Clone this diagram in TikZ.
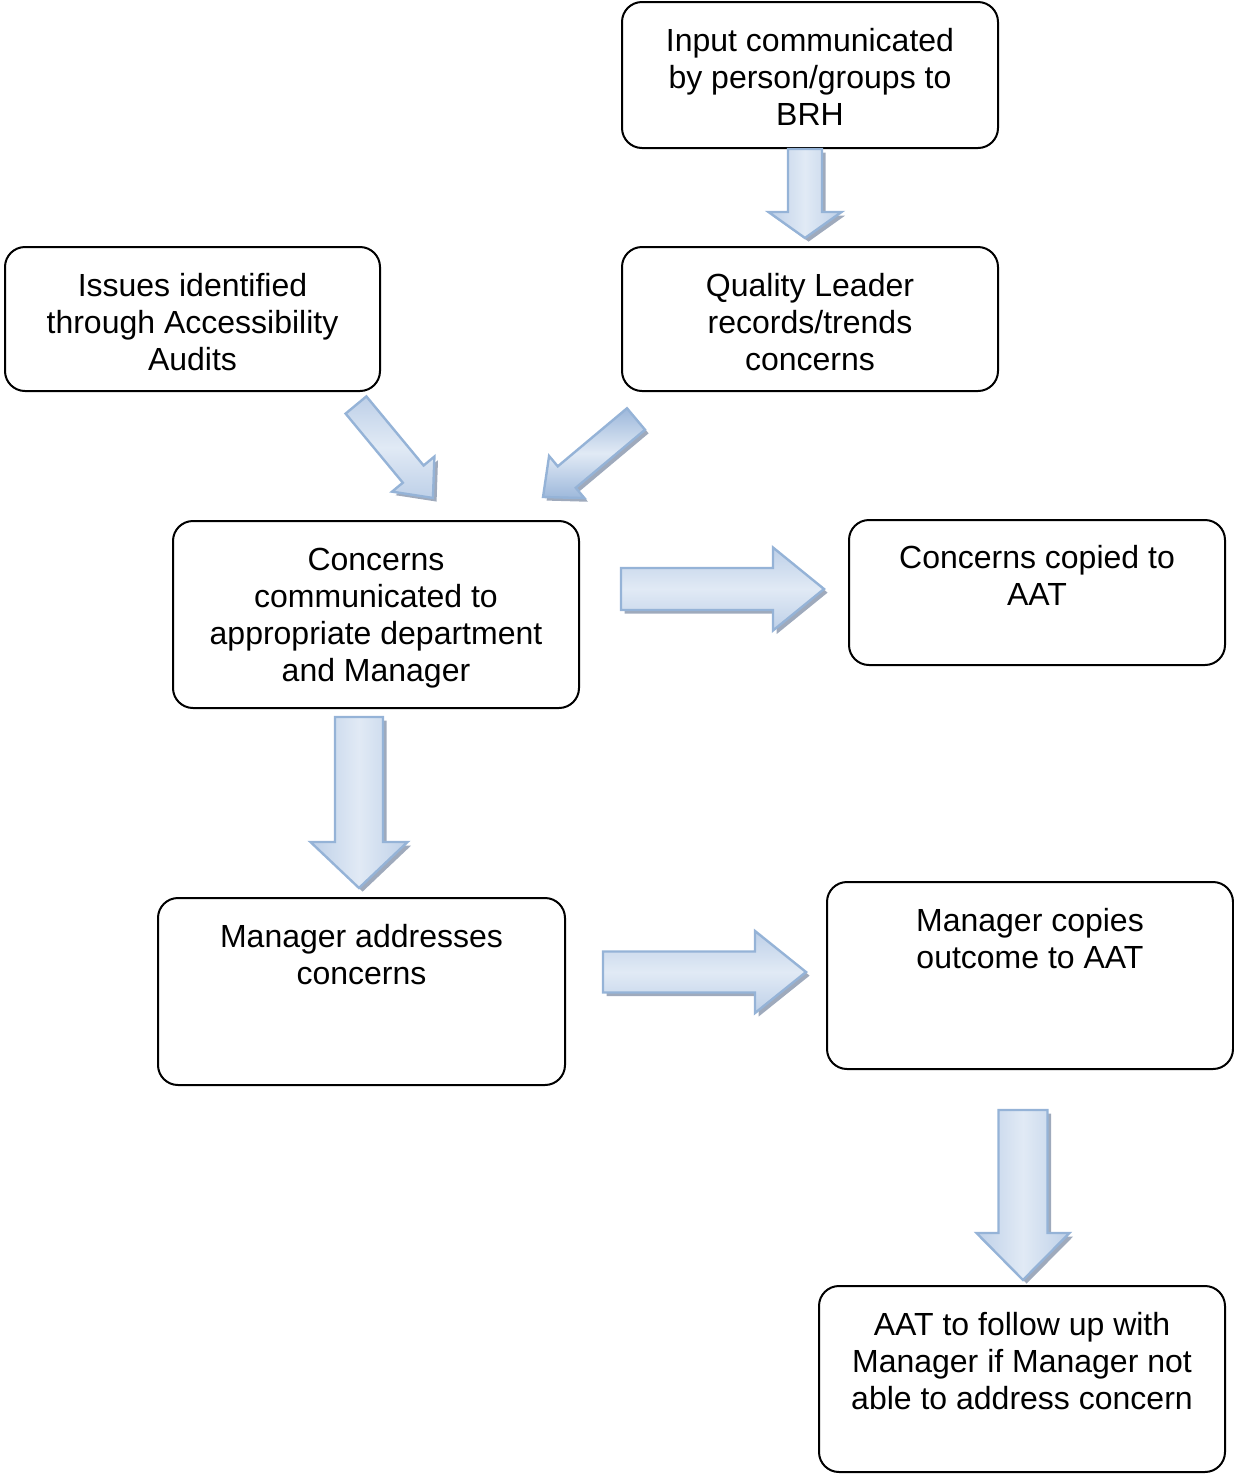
\documentclass[tikz,border=0pt]{standalone}
\usepackage{fontspec}
\setmainfont{Liberation Sans}
\usetikzlibrary{calc}
\definecolor{arrline}{HTML}{95B3D7}
\definecolor{arrlight}{HTML}{E1EAF5}
\definecolor{arrmid}{HTML}{BED0E8}
\definecolor{arrdark}{HTML}{9DB8DB}
\definecolor{arrshadow}{HTML}{7F8EA6}
\tikzset{
  boxnode/.style={draw=black, line width=1pt, rounded corners=10pt, inner sep=0pt},
  boxtext/.style={anchor=north, align=center, inner sep=0pt, font=\fontsize{16pt}{18.5pt}\selectfont},
  arrbody/.style={draw=arrline, line width=1.2pt, line join=miter, top color=arrmid, bottom color=arrmid, middle color=arrlight},
  arrbodyv/.style={draw=arrline, line width=1.2pt, line join=miter, left color=arrmid, right color=arrmid, middle color=arrlight},
  arrbodydark/.style={draw=arrline, line width=1.2pt, line join=miter, top color=arrdark, bottom color=arrdark, middle color=arrlight},
  arrshade/.style={fill=arrshadow, fill opacity=0.75},
}
% #1 start, #2 tip, #3 shaft width (px), #4 head width (px), #5 head length (px), #6 style
\newcommand\blockarr[6]{%
  \path let \p1=($(#2)-(#1)$), \n1={atan2(\y1,\x1)}, \n2={veclen(\x1,\y1)} in
    \pgfextra{\xdef\baang{\n1}\xdef\balen{\n2}};
  \begin{scope}[shift={($(#1)+(1.8pt,-1.8pt)$)}, rotate=\baang]
    \fill[arrshade] (0pt,{#3*0.25pt}) -- ({\balen-#5*0.5pt},{#3*0.25pt}) -- ({\balen-#5*0.5pt},{#4*0.25pt}) -- (\balen,0pt) -- ({\balen-#5*0.5pt},{-#4*0.25pt}) -- ({\balen-#5*0.5pt},{-#3*0.25pt}) -- (0pt,{-#3*0.25pt}) -- cycle;
  \end{scope}
  \begin{scope}[shift={(#1)}, rotate=\baang]
    \draw[#6] (0pt,{#3*0.25pt}) -- ({\balen-#5*0.5pt},{#3*0.25pt}) -- ({\balen-#5*0.5pt},{#4*0.25pt}) -- (\balen,0pt) -- ({\balen-#5*0.5pt},{-#4*0.25pt}) -- ({\balen-#5*0.5pt},{-#3*0.25pt}) -- (0pt,{-#3*0.25pt}) -- cycle;
  \end{scope}}
\begin{document}
\begin{tikzpicture}[x=0.5pt,y=-0.5pt]
\useasboundingbox (0,0) rectangle (1234,1474);
% boxes
\node[boxnode, minimum width=188pt, minimum height=73pt] (b1) at (810,75) {};
\node[boxnode, minimum width=187.5pt, minimum height=72pt] (b2) at (192.5,319) {};
\node[boxnode, minimum width=188pt, minimum height=72pt] (b3) at (810,319) {};
\node[boxnode, minimum width=203pt, minimum height=93.5pt] (b4) at (376,614.5) {};
\node[boxnode, minimum width=188pt, minimum height=72.5pt] (b5) at (1037,592.5) {};
\node[boxnode, minimum width=203.5pt, minimum height=93.5pt] (b6) at (361.5,991.5) {};
\node[boxnode, minimum width=203pt, minimum height=93.5pt] (b7) at (1030,975.5) {};
\node[boxnode, minimum width=203pt, minimum height=93pt] (b8) at (1022,1379) {};
% texts
\node[boxtext] (t1) at ([yshift=-12pt]b1.north) {\strut Input communicated\\by person/groups to\\BRH};
\node[boxtext] (t2) at ([yshift=-12pt]b2.north) {\strut Issues identified\\through Accessibility\\Audits};
\node[boxtext] (t3) at ([yshift=-12pt]b3.north) {\strut Quality Leader\\records/trends\\concerns};
\node[boxtext] (t4) at ([yshift=-12pt]b4.north) {\strut Concerns\\communicated to\\appropriate department\\and Manager};
\node[boxtext] (t5) at ([yshift=-11.5pt]b5.north) {\strut Concerns copied to\\AAT};
\node[boxtext] (t6) at ([yshift=-12pt]b6.north) {\strut Manager addresses\\concerns};
\node[boxtext] (t7) at ([yshift=-12pt]b7.north) {\strut Manager copies\\outcome to AAT};
\node[boxtext] (t8) at ([yshift=-12pt]b8.north) {\strut AAT to follow up with\\Manager if Manager not\\able to address concern};
% arrow end points
\coordinate (a1s) at (805,149);  \coordinate (a1e) at (805,238);
\coordinate (a2s) at (356,405);  \coordinate (a2e) at (433,498);
\coordinate (a3s) at (636,419);  \coordinate (a3e) at (543,497);
\coordinate (a4s) at (621,589);  \coordinate (a4e) at (824,589);
\coordinate (a5s) at (359,717);  \coordinate (a5e) at (359,888);
\coordinate (a6s) at (603,972);  \coordinate (a6e) at (806,972);
\coordinate (a7s) at (1023,1110); \coordinate (a7e) at (1023,1280);
% block arrows
\blockarr{a1s}{a1e}{34}{73}{26}{arrbodyv}
\blockarr{a2s}{a2e}{27}{55}{31}{arrbody}
\blockarr{a3s}{a3e}{28}{55}{31}{arrbodydark}
\blockarr{a4s}{a4e}{42}{83}{51}{arrbody}
\blockarr{a5s}{a5e}{48}{97}{46}{arrbodyv}
\blockarr{a6s}{a6e}{41}{82}{51}{arrbody}
\blockarr{a7s}{a7e}{49}{93}{47}{arrbodyv}
\end{tikzpicture}
\end{document}
